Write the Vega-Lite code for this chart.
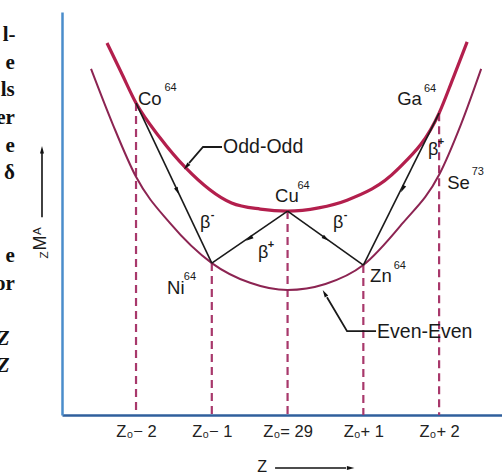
{
  "$schema": "https://vega.github.io/schema/vega-lite/v6.json",
  "width": 440,
  "height": 403,
  "autosize": {"type": "none"},
  "padding": {"left": 62, "top": 12, "right": 0, "bottom": 59},
  "background": "white",
  "config": {
    "view": {"stroke": null},
    "point": {"shape": "M0,-1L0.42,0.6L-0.42,0.6Z", "filled": true, "color": "#111111", "opacity": 1, "size": 90}
  },
  "datasets": {
    "curves": [
      {"curve": "Odd-Odd", "Z": 26.617, "M": 92.3},
      {"curve": "Odd-Odd", "Z": 26.802, "M": 85.1},
      {"curve": "Odd-Odd", "Z": 27.0, "M": 77.4},
      {"curve": "Odd-Odd", "Z": 27.317, "M": 68.8},
      {"curve": "Odd-Odd", "Z": 27.647, "M": 61.5},
      {"curve": "Odd-Odd", "Z": 28.261, "M": 52.6},
      {"curve": "Odd-Odd", "Z": 28.64, "M": 51.1},
      {"curve": "Odd-Odd", "Z": 29.0, "M": 50.6},
      {"curve": "Odd-Odd", "Z": 29.41, "M": 51.4},
      {"curve": "Odd-Odd", "Z": 29.785, "M": 53.3},
      {"curve": "Odd-Odd", "Z": 30.445, "M": 60.8},
      {"curve": "Odd-Odd", "Z": 31.0, "M": 74.9},
      {"curve": "Odd-Odd", "Z": 31.185, "M": 83.6},
      {"curve": "Odd-Odd", "Z": 31.37, "M": 92.6},
      {"curve": "Even-Even", "Z": 26.406, "M": 85.9},
      {"curve": "Even-Even", "Z": 26.696, "M": 72.0},
      {"curve": "Even-Even", "Z": 27.0, "M": 59.1},
      {"curve": "Even-Even", "Z": 27.449, "M": 47.6},
      {"curve": "Even-Even", "Z": 28.0, "M": 37.7},
      {"curve": "Even-Even", "Z": 28.505, "M": 32.8},
      {"curve": "Even-Even", "Z": 29.0, "M": 31.0},
      {"curve": "Even-Even", "Z": 29.5, "M": 32.5},
      {"curve": "Even-Even", "Z": 30.0, "M": 37.2},
      {"curve": "Even-Even", "Z": 30.51, "M": 47.4},
      {"curve": "Even-Even", "Z": 31.0, "M": 59.6},
      {"curve": "Even-Even", "Z": 31.29, "M": 72.2},
      {"curve": "Even-Even", "Z": 31.555, "M": 85.9}
    ],
    "levels": [
      {"nuclide": "Co64", "Z": 27, "M": 77.4},
      {"nuclide": "Ni64", "Z": 28, "M": 37.7},
      {"nuclide": "Cu64", "Z": 29, "M": 50.6},
      {"nuclide": "Zn64", "Z": 30, "M": 37.2},
      {"nuclide": "Ga64", "Z": 31, "M": 74.9}
    ],
    "decays": [
      {"decay": "Co→Ni", "Z": 27, "M": 77.4, "Z2": 28, "M2": 37.7},
      {"decay": "Cu→Ni", "Z": 29, "M": 50.6, "Z2": 28, "M2": 37.7},
      {"decay": "Cu→Zn", "Z": 29, "M": 50.6, "Z2": 30, "M2": 37.2},
      {"decay": "Ga→Zn", "Z": 31, "M": 74.9, "Z2": 30, "M2": 37.2}
    ],
    "guides": [
      {"guide": "mass", "Z": 25.759, "M": 49.1, "Z2": 25.759, "M2": 65.0},
      {"guide": "charge", "Z": 28.835, "M": -13.15, "Z2": 29.772, "M2": -13.15}
    ],
    "heads": [
      {"arrow": "Co→Ni", "Z": 27.541, "M": 55.8},
      {"arrow": "Cu→Ni", "Z": 28.505, "M": 43.9},
      {"arrow": "Cu→Zn", "Z": 29.495, "M": 43.9},
      {"arrow": "Ga→Zn", "Z": 30.525, "M": 56.3},
      {"arrow": "Odd-Odd", "Z": 27.673, "M": 61.8},
      {"arrow": "Even-Even", "Z": 29.495, "M": 30.0},
      {"arrow": "mass", "Z": 25.759, "M": 65.6},
      {"arrow": "charge", "Z": 29.82, "M": -13.15}
    ],
    "leaders": [
      {"leader": "Odd-Odd", "seq": 1, "Z": 28.135, "M": 66.5},
      {"leader": "Odd-Odd", "seq": 2, "Z": 27.884, "M": 66.5},
      {"leader": "Odd-Odd", "seq": 3, "Z": 27.7, "M": 62.5},
      {"leader": "Even-Even", "seq": 1, "Z": 30.168, "M": 20.8},
      {"leader": "Even-Even", "seq": 2, "Z": 29.785, "M": 20.8},
      {"leader": "Even-Even", "seq": 3, "Z": 29.52, "M": 29.2}
    ],
    "nuclideLabels": [
      {"text": "Co", "Z": 27.026, "M": 78.4},
      {"text": "Cu", "Z": 28.835, "M": 54.3},
      {"text": "Ga", "Z": 30.446, "M": 78.4},
      {"text": "Ni", "Z": 27.409, "M": 31.5},
      {"text": "Zn", "Z": 30.089, "M": 34.5},
      {"text": "Se", "Z": 31.106, "M": 57.6}
    ],
    "massNumbers": [
      {"text": "64", "Z": 27.375, "M": 81.1},
      {"text": "64", "Z": 29.13, "M": 56.8},
      {"text": "64", "Z": 30.80, "M": 80.8},
      {"text": "64", "Z": 27.63, "M": 34.3},
      {"text": "64", "Z": 30.40, "M": 37.0},
      {"text": "73", "Z": 31.43, "M": 60.3}
    ],
    "betaLabels": [
      {"text": "β", "Z": 27.911, "M": 47.6},
      {"text": "β", "Z": 28.677, "M": 40.2},
      {"text": "β", "Z": 29.667, "M": 47.6},
      {"text": "β", "Z": 30.921, "M": 65.8}
    ],
    "betaSigns": [
      {"text": "-", "Z": 28.01, "M": 49.6},
      {"text": "+", "Z": 28.78, "M": 42.1},
      {"text": "-", "Z": 29.766, "M": 49.6},
      {"text": "+", "Z": 31.025, "M": 67.8}
    ],
    "curveNames": [
      {"text": "Odd-Odd", "Z": 28.149, "M": 66.5},
      {"text": "Even-Even", "Z": 30.181, "M": 20.6}
    ],
    "axisTitles": [
      {"text": "M", "part": "base", "Z": 25.746, "M": 42.7},
      {"text": "A", "part": "sup", "Z": 25.70, "M": 45.6},
      {"text": "Z", "part": "sub", "Z": 25.80, "M": 39.7},
      {"text": "Z", "part": "xbase", "Z": 28.663, "M": -12.9}
    ],
    "margin": [
      {"t": "l-", "Z": 25.41, "M": 94.3},
      {"t": "e", "Z": 25.40, "M": 87.3},
      {"t": "ls", "Z": 25.40, "M": 80.6},
      {"t": "er", "Z": 25.40, "M": 73.7},
      {"t": "e", "Z": 25.40, "M": 66.7},
      {"t": "δ", "Z": 25.40, "M": 60.0},
      {"t": "e", "Z": 25.40, "M": 39.5},
      {"t": "or", "Z": 25.40, "M": 32.5},
      {"t": "Z", "Z": 25.33, "M": 18.9},
      {"t": "Z", "Z": 25.33, "M": 12.2}
    ]
  },
  "encoding": {
    "x": {
      "field": "Z",
      "type": "quantitative",
      "scale": {"domain": [26.023, 31.83], "nice": false, "zero": false},
      "axis": {
        "values": [27, 28, 29, 30, 31],
        "labelExpr": "datum.value == 27 ? 'Z₀− 2' : datum.value == 28 ? 'Z₀− 1' : datum.value == 29 ? 'Z₀= 29' : datum.value == 30 ? 'Z₀+ 1' : 'Z₀+ 2'",
        "title": null,
        "ticks": false,
        "grid": false,
        "domainColor": "#2f5f9c",
        "domainWidth": 2.5,
        "labelFont": "Liberation Sans",
        "labelFontSize": 16.5,
        "labelColor": "#222222",
        "labelPadding": 8
      }
    },
    "y": {
      "field": "M",
      "type": "quantitative",
      "scale": {"domain": [0, 100], "nice": false, "zero": false},
      "axis": {
        "title": null,
        "labels": false,
        "ticks": false,
        "grid": false,
        "domainColor": "#4a8dcb",
        "domainWidth": 2.5
      }
    }
  },
  "layer": [
    {
      "data": {"name": "levels"},
      "mark": {"type": "rule", "color": "#a8386b", "strokeWidth": 2.2, "strokeDash": [8, 5]},
      "encoding": {"y2": {"datum": 0}}
    },
    {
      "data": {"name": "curves"},
      "transform": [{"filter": "datum.curve == 'Even-Even'"}],
      "mark": {"type": "line", "interpolate": "monotone", "color": "#8c2452", "strokeWidth": 2}
    },
    {
      "data": {"name": "curves"},
      "transform": [{"filter": "datum.curve == 'Odd-Odd'"}],
      "mark": {"type": "line", "interpolate": "monotone", "color": "#b31f4d", "strokeWidth": 3.2}
    },
    {
      "data": {"name": "decays"},
      "mark": {"type": "rule", "color": "#1a1a1a", "strokeWidth": 1.6},
      "encoding": {"x2": {"field": "Z2"}, "y2": {"field": "M2"}}
    },
    {
      "data": {"name": "guides"},
      "mark": {"type": "rule", "color": "#111111", "strokeWidth": 1.6, "clip": false},
      "encoding": {"x2": {"field": "Z2"}, "y2": {"field": "M2"}}
    },
    {
      "data": {"name": "leaders"},
      "mark": {"type": "line", "color": "#1a1a1a", "strokeWidth": 1.8},
      "encoding": {"detail": {"field": "leader"}, "order": {"field": "seq"}}
    },
    {
      "data": {"name": "heads"},
      "transform": [{"filter": "datum.arrow == 'Co→Ni'"}],
      "mark": {"type": "point", "angle": 155}
    },
    {
      "data": {"name": "heads"},
      "transform": [{"filter": "datum.arrow == 'Cu→Ni'"}],
      "mark": {"type": "point", "angle": 237}
    },
    {
      "data": {"name": "heads"},
      "transform": [{"filter": "datum.arrow == 'Cu→Zn'"}],
      "mark": {"type": "point", "angle": 126}
    },
    {
      "data": {"name": "heads"},
      "transform": [{"filter": "datum.arrow == 'Ga→Zn'"}],
      "mark": {"type": "point", "angle": 207}
    },
    {
      "data": {"name": "heads"},
      "transform": [{"filter": "datum.arrow == 'Odd-Odd'"}],
      "mark": {"type": "point", "angle": 221}
    },
    {
      "data": {"name": "heads"},
      "transform": [{"filter": "datum.arrow == 'Even-Even'"}],
      "mark": {"type": "point", "angle": 330}
    },
    {
      "data": {"name": "heads"},
      "transform": [{"filter": "datum.arrow == 'mass'"}],
      "mark": {"type": "point", "angle": 0}
    },
    {
      "data": {"name": "heads"},
      "transform": [{"filter": "datum.arrow == 'charge'"}],
      "mark": {"type": "point", "angle": 90}
    },
    {
      "data": {"name": "nuclideLabels"},
      "mark": {"type": "text", "align": "left", "baseline": "middle", "font": "Liberation Sans", "fontSize": 18.5, "color": "#1a1a1a"},
      "encoding": {"text": {"field": "text"}}
    },
    {
      "data": {"name": "massNumbers"},
      "mark": {"type": "text", "align": "left", "baseline": "middle", "font": "Liberation Sans", "fontSize": 11, "color": "#1a1a1a"},
      "encoding": {"text": {"field": "text"}}
    },
    {
      "data": {"name": "betaLabels"},
      "mark": {"type": "text", "align": "center", "baseline": "middle", "font": "Liberation Sans", "fontSize": 18, "color": "#1a1a1a"},
      "encoding": {"text": {"field": "text"}}
    },
    {
      "data": {"name": "betaSigns"},
      "mark": {"type": "text", "align": "center", "baseline": "middle", "font": "Liberation Sans", "fontWeight": "bold", "fontSize": 11, "color": "#1a1a1a"},
      "encoding": {"text": {"field": "text"}}
    },
    {
      "data": {"name": "curveNames"},
      "mark": {"type": "text", "align": "left", "baseline": "middle", "font": "Liberation Sans", "fontSize": 19.5, "color": "#1a1a1a"},
      "encoding": {"text": {"field": "text"}}
    },
    {
      "data": {"name": "axisTitles"},
      "transform": [{"filter": "datum.part == 'base'"}],
      "mark": {"type": "text", "align": "center", "baseline": "middle", "angle": 270, "font": "Liberation Sans", "fontSize": 18, "color": "#1a1a1a"},
      "encoding": {"text": {"field": "text"}}
    },
    {
      "data": {"name": "axisTitles"},
      "transform": [{"filter": "datum.part == 'sup' || datum.part == 'sub'"}],
      "mark": {"type": "text", "align": "center", "baseline": "middle", "angle": 270, "font": "Liberation Sans", "fontSize": 11.5, "color": "#1a1a1a"},
      "encoding": {"text": {"field": "text"}}
    },
    {
      "data": {"name": "axisTitles"},
      "transform": [{"filter": "datum.part == 'xbase'"}],
      "mark": {"type": "text", "align": "center", "baseline": "middle", "font": "Liberation Sans", "fontSize": 16, "color": "#1a1a1a"},
      "encoding": {"text": {"field": "text"}}
    },
    {
      "data": {"name": "margin"},
      "transform": [{"filter": "datum.t != 'Z'"}],
      "mark": {"type": "text", "align": "right", "baseline": "middle", "font": "Liberation Serif", "fontWeight": "bold", "fontSize": 21, "color": "#111111"},
      "encoding": {"text": {"field": "t"}}
    },
    {
      "data": {"name": "margin"},
      "transform": [{"filter": "datum.t == 'Z'"}],
      "mark": {"type": "text", "align": "right", "baseline": "middle", "font": "Liberation Serif", "fontWeight": "bold", "fontStyle": "italic", "fontSize": 21, "color": "#111111"},
      "encoding": {"text": {"field": "t"}}
    }
  ]
}
